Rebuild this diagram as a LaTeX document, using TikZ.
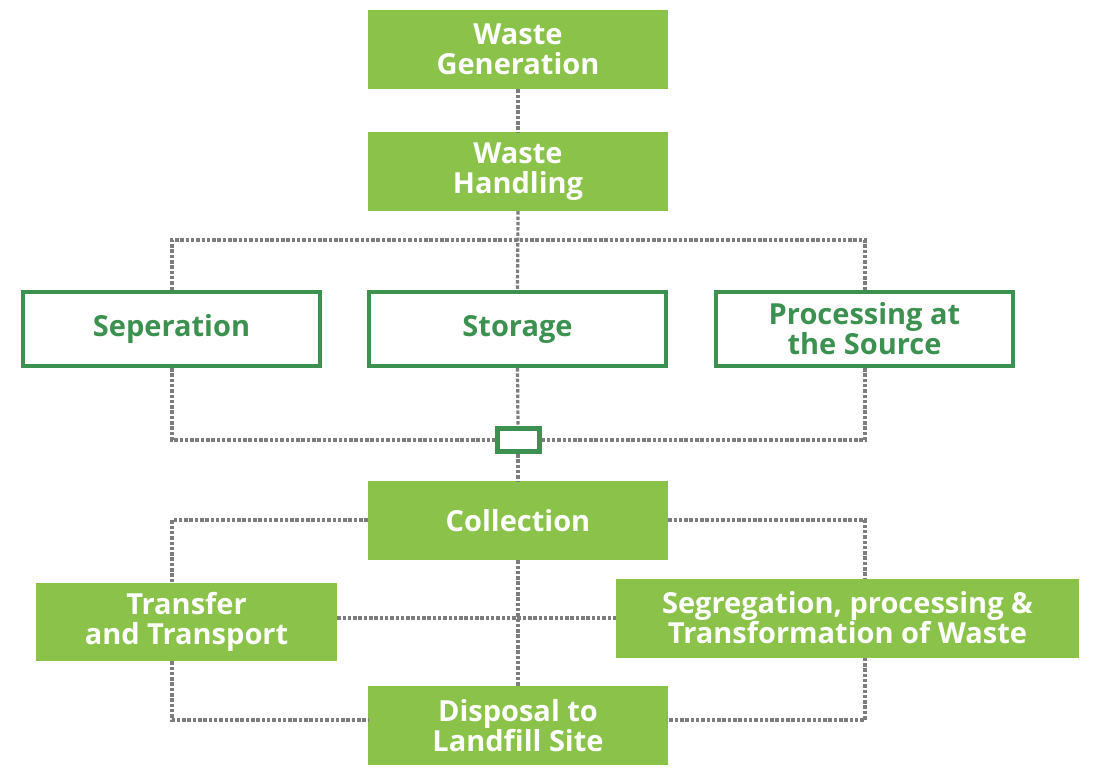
\documentclass[tikz,border=0pt]{standalone}
\usepackage{fontspec}
\setmainfont{Open Sans}
\definecolor{lg}{RGB}{139,195,74}
\definecolor{dg}{RGB}{61,145,80}
\definecolor{ln}{RGB}{125,125,125}
\begin{document}
\begin{tikzpicture}[x=1pt,y=-1pt,
  fillbox/.style={fill=lg,draw=none,text=white,font=\bfseries\fontsize{29}{30}\selectfont,align=center,inner sep=0pt,minimum height=79pt},
  outbox/.style={fill=white,draw=dg,line width=4pt,text=dg,font=\bfseries\fontsize{29}{30}\selectfont,align=center,inner sep=0pt,minimum width=297pt,minimum height=74pt},
  conn/.style={draw=ln,line width=3.2pt,dash pattern=on 3.5pt off 1.8pt}]
\useasboundingbox (0,0) rectangle (1095,780);
\coordinate (hl) at (172,240);
\coordinate (hr) at (865,240);
\coordinate (bl) at (172,440);
\coordinate (br) at (865,440);
\coordinate (cl) at (172,520);
\coordinate (cr) at (865,520);
\coordinate (dl) at (172,720);
\coordinate (dr) at (865,720);
\coordinate (mid) at (518,618);

\node[fillbox,minimum width=300pt] (gen) at (518,49.5) {Waste\\Generation};
\node[fillbox,minimum width=300pt] (hand) at (518,171.5) {Waste\\Handling};
\node[outbox] (sep) at (171.5,329) {Seperation};
\node[outbox] (sto) at (517.5,329) {Storage};
\node[outbox] (proc) at (864.5,329) {Processing at\\the Source};
\node[draw=dg,fill=white,line width=5pt,minimum width=42pt,minimum height=23pt,inner sep=0pt] (jn) at (518,440) {};
\node[fillbox,minimum width=300pt] (col) at (518,520.5) {Collection};
\node[fillbox,minimum width=301pt,minimum height=78pt] (tra) at (186.5,622) {Transfer\\and Transport};
\node[fillbox,minimum width=463pt] (seg) at (847.5,618) {Segregation, processing \&\\Transformation of Waste};
\node[fillbox,minimum width=300pt] (dis) at (518,725.5) {Disposal to\\Landfill Site};

\draw[conn] (gen.south) -- (hand.north);
\draw[conn] (hand.south) -- (sto.north);
\draw[conn] (sep.north -| hl) -- (hl) -- (hr) -- (proc.north -| hr);
\draw[conn] (sep.south -| bl) -- (bl) -- (jn.west);
\draw[conn] (proc.south -| br) -- (br) -- (jn.east);
\draw[conn] (sto.south) -- (jn.north);
\draw[conn] (jn.south) -- (col.north);
\draw[conn] (col.west |- cl) -- (cl) -- (tra.north -| cl);
\draw[conn] (col.east |- cr) -- (cr) -- (seg.north -| cr);
\draw[conn] (tra.south -| dl) -- (dl) -- (dis.west |- dl);
\draw[conn] (seg.south -| dr) -- (dr) -- (dis.east |- dr);
\draw[conn] (col.south) -- (dis.north);
\draw[conn] (tra.east |- mid) -- (seg.west |- mid);
\end{tikzpicture}
\end{document}
